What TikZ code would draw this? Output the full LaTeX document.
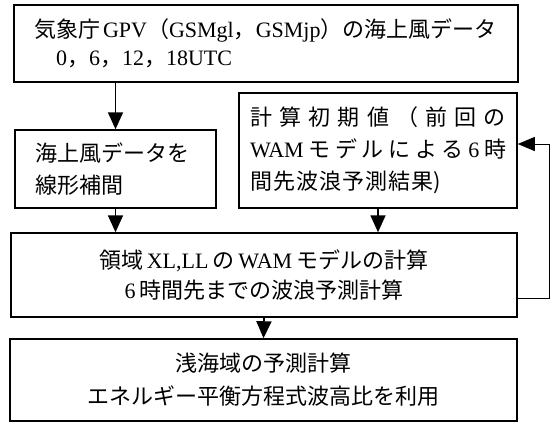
\documentclass[tikz,border=0pt]{standalone}
\usepackage{fontspec}
\setmainfont{Liberation Serif}
\newfontfamily\cjk{Noto Sans CJK JP}
\newfontfamily\cjkls{Noto Sans CJK JP}[LetterSpace=5]
\usetikzlibrary{arrows.meta}
\tikzset{
  box/.style={draw, line width=1.5pt, rectangle, inner ysep=0pt,
    font=\fontsize{22pt}{30pt}\selectfont},
  arr/.style={line width=1.8pt, -{Triangle[length=17pt,width=15pt]}},
  fbarr/.style={line width=1pt, -{Triangle[length=17pt,width=14pt]}}
}
\begin{document}
\begin{tikzpicture}[x=1pt,y=-1pt]
\useasboundingbox (0,0) rectangle (553,423);
\node[box, minimum width=504pt, minimum height=77pt, text width=464pt, inner xsep=20pt, align=left,
  font=\fontsize{22pt}{28pt}\selectfont] (b1) at (266,43.5)
  {{\cjk 気象庁}\hspace{3pt}GPV{\cjk （}GSMgl{\cjk ，}GSMjp{\cjk ）の海上風データ}\\
   \hspace*{22pt}0{\cjk ，}6{\cjk ，}12{\cjk ，}18UTC};
\node[box, minimum width=201pt, minimum height=78pt, text width=161pt, inner xsep=20pt, align=left,
  font=\fontsize{22pt}{32pt}\selectfont] (b2) at (115.5,169)
  {{\cjk 海上風データを}\\{\cjk 線形補間}};
\node[box, minimum width=278pt, minimum height=115pt, text width=256pt, inner xsep=11pt, align=left,
  font=\fontsize{22pt}{32pt}\selectfont] (b3) at (378,150.5)
  {\makebox[256pt][s]{\cjk 計\hfill 算\hfill 初\hfill 期\hfill 値\hfill （\hfill 前\hfill 回\hfill の}\\
   \makebox[256pt][s]{WAM\hfill{\cjk モ}\hfill{\cjk デ}\hfill{\cjk ル}\hfill{\cjk に}\hfill{\cjk よ}\hfill{\cjk る}\hfill 6\hfill{\cjk 時}}\\
   {\cjkls 間先波浪予測結果}{\cjk )}};
\node[box, minimum width=506pt, minimum height=84pt, align=center,
  font=\fontsize{22pt}{30pt}\selectfont] (b4) at (264,275)
  {{\cjk 領域}\hspace{3pt}XL,LL\hspace{4pt}{\cjk の}\hspace{4pt}WAM\hspace{4pt}{\cjk モデルの計算}\\
   6\hspace{4pt}{\cjk 時間先までの波浪予測計算}};
\node[box, minimum width=507pt, minimum height=82pt, align=center,
  font=\fontsize{22pt}{33pt}\selectfont] (b5) at (263.5,380)
  {{\cjk 浅海域の予測計算}\\{\cjk エネルギー平衡方程式波高比を利用}};
\draw[arr] (b1.south -| b2.north) -- (b2.north);
\draw[arr] (b2.south) -- (b2.south |- b4.north);
\draw[arr] (b3.south) -- (b3.south |- b4.north);
\draw[arr] (b4.south) -- (b5.north);
\draw[fbarr] ([yshift=-23pt]b4.east) -- ++(32,0) |- ([yshift=6.5pt]b3.east);
\end{tikzpicture}
\end{document}
